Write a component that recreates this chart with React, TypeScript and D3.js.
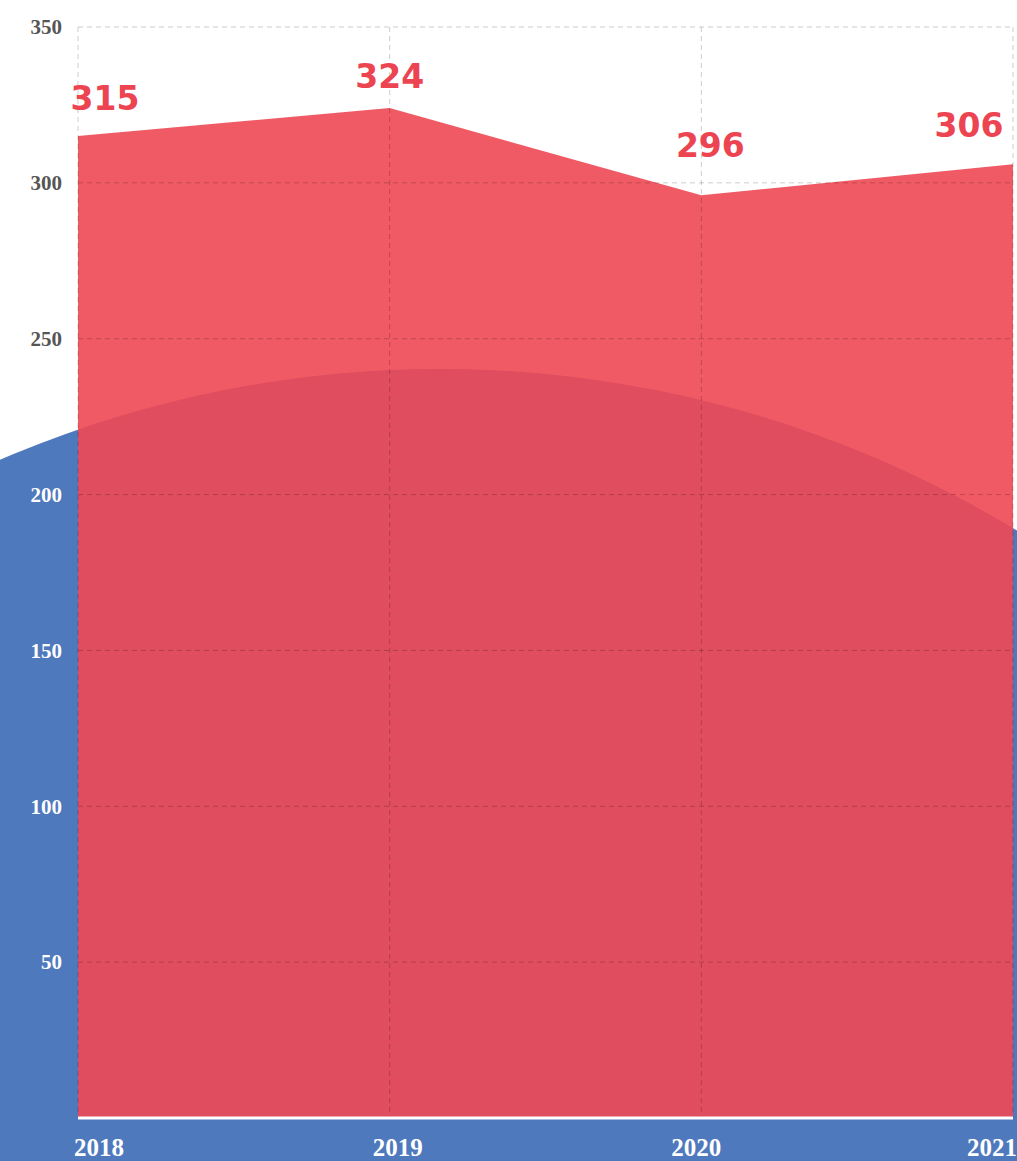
import React from "react";
import * as d3 from "d3";

const years = ["2018", "2019", "2020", "2021"];
const values = [315, 324, 296, 306];
const yTicks = [50, 100, 150, 200, 250, 300, 350];

const W = 1017;
const H = 1161;
const M = { left: 78, right: 1013, top: 27, bottom: 1118 };

// annotation nudges (pixels) for value labels
const labelNudge: [number, number][] = [
  [0, -26],
  [0, -20],
  [9, -38],
  [0, -27],
];

const CIRCLE = { cx: 440, cy: 1480, r: 1111 };

export default function App() {
  const x = d3.scalePoint<string>().domain(years).range([M.left, M.right]);
  const y = d3.scaleLinear().domain([0, 350]).range([M.bottom, M.top]);

  const area = d3
    .area<number>()
    .x((_, i) => x(years[i]) as number)
    .y0(y(0))
    .y1((d) => y(d));

  const inCircle = (px: number, py: number) =>
    (px - CIRCLE.cx) ** 2 + (py - CIRCLE.cy) ** 2 < CIRCLE.r ** 2;

  const labelW = 70;
  return (
    <svg
      width={W}
      height={H}
      style={{ position: "absolute", left: 0, top: 0, display: "block" }}
    >
      <rect width={W} height={H} fill="#ffffff" />
      <circle cx={CIRCLE.cx} cy={CIRCLE.cy} r={CIRCLE.r} fill="#4f79bd" />
      <path d={area(values) || ""} fill="#ee4853" fillOpacity={0.9} />
      {/* grid */}
      <g stroke="rgba(0,0,0,0.2)" strokeWidth={1} strokeDasharray="5,4">
        {yTicks.map((t) => (
          <line key={t} x1={M.left} x2={M.right} y1={y(t)} y2={y(t)} />
        ))}
        {years.map((yr) => (
          <line
            key={yr}
            x1={x(yr)}
            x2={x(yr)}
            y1={y(350)}
            y2={y(0)}
          />
        ))}
      </g>
      <line
        x1={M.left}
        x2={M.right}
        y1={y(0)}
        y2={y(0)}
        stroke="#ffffff"
        strokeWidth={3}
      />
      {/* y tick labels */}
      <g
        fontFamily="'Liberation Serif', 'DejaVu Serif', serif"
        fontWeight="bold"
        fontSize={21}
        textAnchor="end"
      >
        {yTicks.map((t) => (
          <text
            key={t}
            x={62}
            y={y(t)}
            dy="0.35em"
            fill={inCircle(46, y(t)) ? "#ffffff" : "#555555"}
          >
            {t}
          </text>
        ))}
      </g>
      {/* x labels */}
      <g
        fontFamily="'Liberation Serif', 'DejaVu Serif', serif"
        fontWeight="bold"
        fontSize={25}
        fill="#ffffff"
      >
        {years.map((yr, i) => {
          const px = x(yr) as number;
          const anchor =
            i === 0 ? "start" : i === years.length - 1 ? "end" : "middle";
          const xx = i === 0 ? px - 4 : i === years.length - 1 ? W : px + (i === 1 ? 8 : -5);
          return (
            <text key={yr} x={xx} y={1156} textAnchor={anchor}>
              {yr}
            </text>
          );
        })}
      </g>
      {/* value labels */}
      <g
        fontFamily="'DejaVu Sans', sans-serif"
        fontWeight="bold"
        fontSize={33}
        fill="#ec4450"
        textAnchor="middle"
      >
        {values.map((v, i) => {
          const px = x(years[i]) as number;
          const cxl = Math.min(
            Math.max(px, M.left - 8 + labelW / 2),
            M.right - 9 - labelW / 2
          );
          return (
            <text
              key={i}
              x={cxl + labelNudge[i][0]}
              y={y(v) + labelNudge[i][1]}
            >
              {v}
            </text>
          );
        })}
      </g>
    </svg>
  );
}
